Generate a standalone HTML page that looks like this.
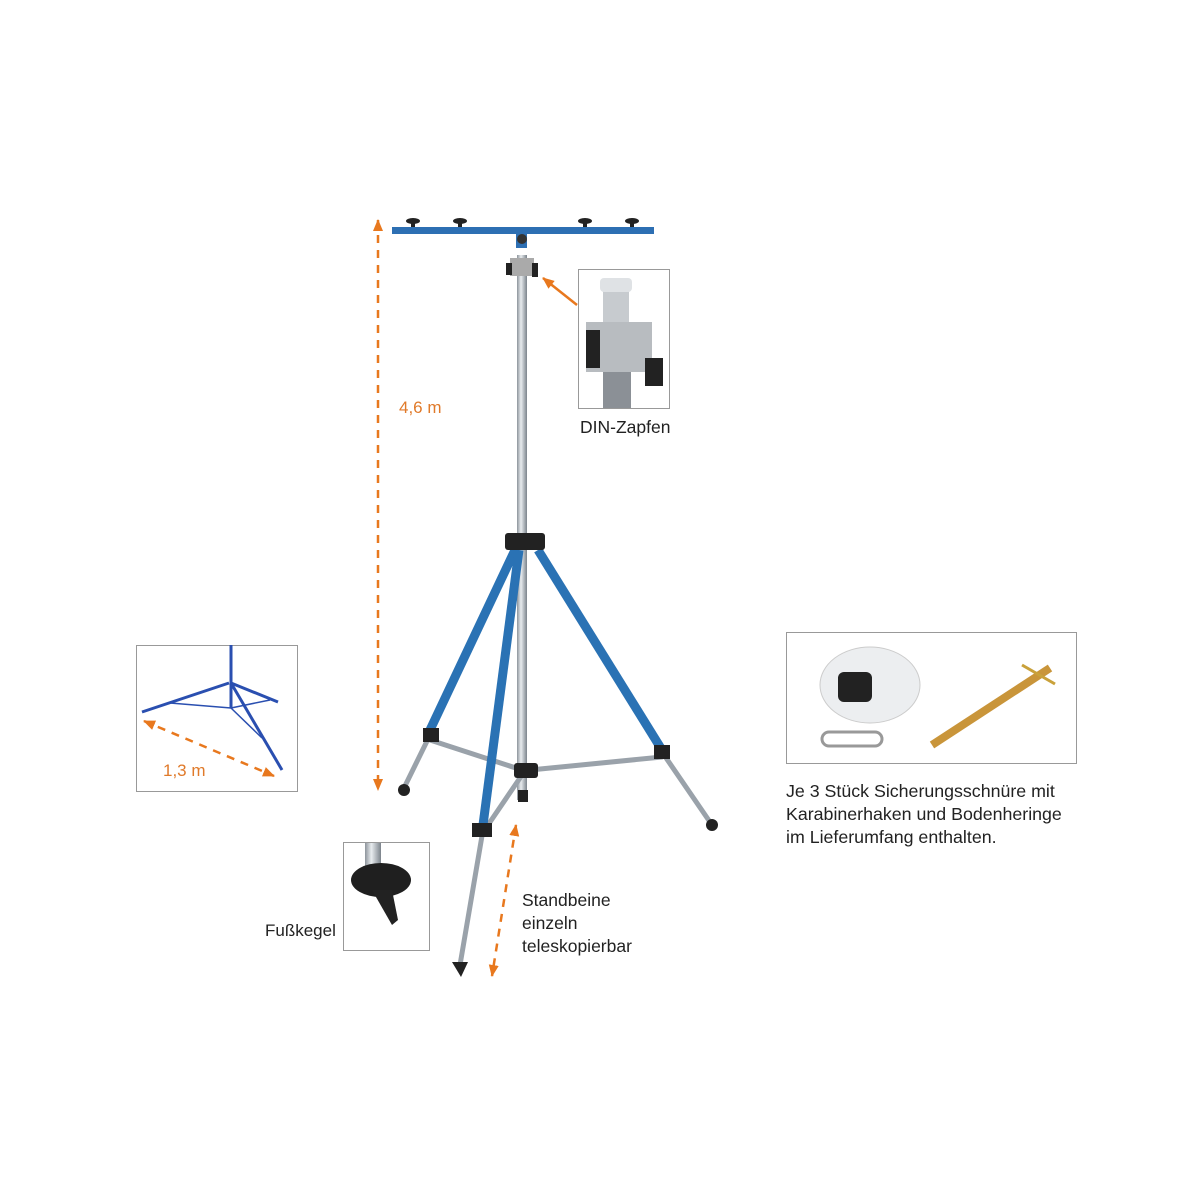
<!DOCTYPE html>
<html><head><meta charset="utf-8"><style>
html,body{margin:0;padding:0;background:#fff;}
svg{display:block;}
text{font-family:"Liberation Sans",sans-serif;}
</style></head><body>
<svg width="1200" height="1200" viewBox="0 0 1200 1200" xmlns="http://www.w3.org/2000/svg">
<defs>
<linearGradient id="sil" x1="0" x2="1"><stop offset="0" stop-color="#8d949b"/><stop offset="0.4" stop-color="#e8ecef"/><stop offset="1" stop-color="#7b838b"/></linearGradient>
<marker id="ah" markerUnits="userSpaceOnUse" markerWidth="12" markerHeight="10" refX="11" refY="5" orient="auto-start-reverse"><path d="M0,0 L12,5 L0,10 z" fill="#e8781e"/></marker>
</defs>
<!-- crossbar -->
<rect x="392" y="227" width="262" height="7" fill="#2d6fb3"/>
<g fill="#222"><ellipse cx="413" cy="221" rx="7" ry="3"/><ellipse cx="460" cy="221" rx="7" ry="3"/><ellipse cx="585" cy="221" rx="7" ry="3"/><ellipse cx="632" cy="221" rx="7" ry="3"/>
<rect x="411" y="221" width="4" height="6"/><rect x="458" y="221" width="4" height="6"/><rect x="583" y="221" width="4" height="6"/><rect x="630" y="221" width="4" height="6"/></g>
<rect x="516" y="234" width="11" height="14" fill="#2d6fb3"/><circle cx="522" cy="239" r="5" fill="#333"/>
<!-- mast -->
<rect x="517" y="255" width="10" height="545" fill="url(#sil)"/>
<rect x="510" y="258" width="24" height="18" fill="#aaa"/><rect x="506" y="263" width="6" height="12" fill="#222"/><rect x="532" y="263" width="6" height="14" fill="#222"/>
<rect x="518" y="790" width="10" height="12" fill="#222"/>
<!-- legs lower silver -->
<g stroke="#9aa2aa" stroke-width="5" stroke-linecap="round">
<line x1="430" y1="735" x2="403" y2="790"/>
<line x1="483" y1="830" x2="460" y2="965"/>
<line x1="662" y1="752" x2="712" y2="825"/>
<line x1="430" y1="740" x2="522" y2="770"/>
<line x1="662" y1="757" x2="530" y2="770"/>
<line x1="488" y1="825" x2="522" y2="775"/>
</g>
<!-- blue legs -->
<g stroke="#2a72b4" stroke-width="9" stroke-linecap="butt">
<line x1="515" y1="550" x2="430" y2="730"/>
<line x1="519" y1="550" x2="483" y2="825"/>
<line x1="538" y1="550" x2="662" y2="750"/>
</g>
<g fill="#222">
<rect x="505" y="533" width="40" height="17" rx="3"/>
<rect x="514" y="763" width="24" height="15" rx="3"/>
<rect x="423" y="728" width="16" height="14"/><rect x="654" y="745" width="16" height="14"/><rect x="472" y="823" width="20" height="14"/>
<circle cx="404" cy="790" r="6"/><circle cx="712" cy="825" r="6"/>
<path d="M452,962 L468,962 L461,977 z"/>
</g>
<!-- 4,6 m dashed -->
<line x1="378" y1="220" x2="378" y2="790" stroke="#e8781e" stroke-width="2.5" stroke-dasharray="8,7" marker-start="url(#ah)" marker-end="url(#ah)"/>
<text x="399" y="413" font-size="17" fill="#e07a2a">4,6 m</text>
<!-- DIN arrow -->
<line x1="577" y1="305" x2="543" y2="278" stroke="#e8781e" stroke-width="2.5" marker-end="url(#ah)"/>
<rect x="578.5" y="269.5" width="91" height="139" fill="#fff" stroke="#999"/>
<rect x="603" y="280" width="26" height="45" fill="#c7cbcf"/><rect x="600" y="278" width="32" height="14" rx="4" fill="#dfe2e5"/>
<rect x="586" y="322" width="66" height="50" fill="#b8bcc0"/><rect x="603" y="372" width="28" height="36" fill="#8b9096"/>
<rect x="586" y="330" width="14" height="38" fill="#222"/><rect x="645" y="358" width="18" height="28" fill="#222"/>
<text x="580" y="433" font-size="17.5" fill="#222">DIN-Zapfen</text>
<!-- left box -->
<rect x="136.5" y="645.5" width="161" height="146" fill="#fff" stroke="#999"/>
<g stroke="#2a4fb0" stroke-width="3"><line x1="231" y1="645" x2="231" y2="708"/><line x1="229" y1="683" x2="142" y2="712"/><line x1="231" y1="683" x2="282" y2="770"/><line x1="231" y1="683" x2="278" y2="702"/></g>
<g stroke="#2a4fb0" stroke-width="1.5"><line x1="170" y1="703" x2="231" y2="708"/><line x1="231" y1="708" x2="262" y2="738"/><line x1="231" y1="708" x2="270" y2="700"/></g>
<line x1="144" y1="721" x2="274" y2="776" stroke="#e8781e" stroke-width="2.5" stroke-dasharray="8,7" marker-start="url(#ah)" marker-end="url(#ah)"/>
<text x="163" y="776" font-size="17" fill="#e07a2a">1,3 m</text>
<!-- foot box -->
<rect x="343.5" y="842.5" width="86" height="108" fill="#fff" stroke="#999"/>
<rect x="365" y="843" width="16" height="30" fill="url(#sil)"/>
<ellipse cx="381" cy="880" rx="30" ry="17" fill="#1f1f1f"/><path d="M372,890 L392,890 L398,920 L392,925 z" fill="#222"/>
<text x="265" y="936" font-size="17" fill="#222">Fußkegel</text>
<!-- leg dashed -->
<line x1="516" y1="825" x2="492" y2="976" stroke="#e8781e" stroke-width="2.5" stroke-dasharray="8,7" marker-start="url(#ah)" marker-end="url(#ah)"/>
<text font-size="17.5" fill="#222"><tspan x="522" y="906">Standbeine</tspan><tspan x="522" y="929">einzeln</tspan><tspan x="522" y="952">teleskopierbar</tspan></text>
<!-- right box -->
<rect x="786.5" y="632.5" width="290" height="131" fill="#fff" stroke="#999"/>
<ellipse cx="870" cy="685" rx="50" ry="38" fill="#eceef0" stroke="#ccc"/>
<rect x="838" y="672" width="34" height="30" rx="6" fill="#222"/>
<rect x="822" y="732" width="60" height="14" rx="7" fill="none" stroke="#999" stroke-width="3"/>
<line x1="932" y1="745" x2="1050" y2="668" stroke="#c9953a" stroke-width="8"/>
<line x1="1022" y1="665" x2="1055" y2="684" stroke="#c9a13a" stroke-width="3"/>
<text font-size="17.8" fill="#222"><tspan x="786" y="797">Je 3 Stück Sicherungsschnüre mit</tspan><tspan x="786" y="820">Karabinerhaken und Bodenheringe</tspan><tspan x="786" y="843">im Lieferumfang enthalten.</tspan></text>
</svg>
</body></html>
